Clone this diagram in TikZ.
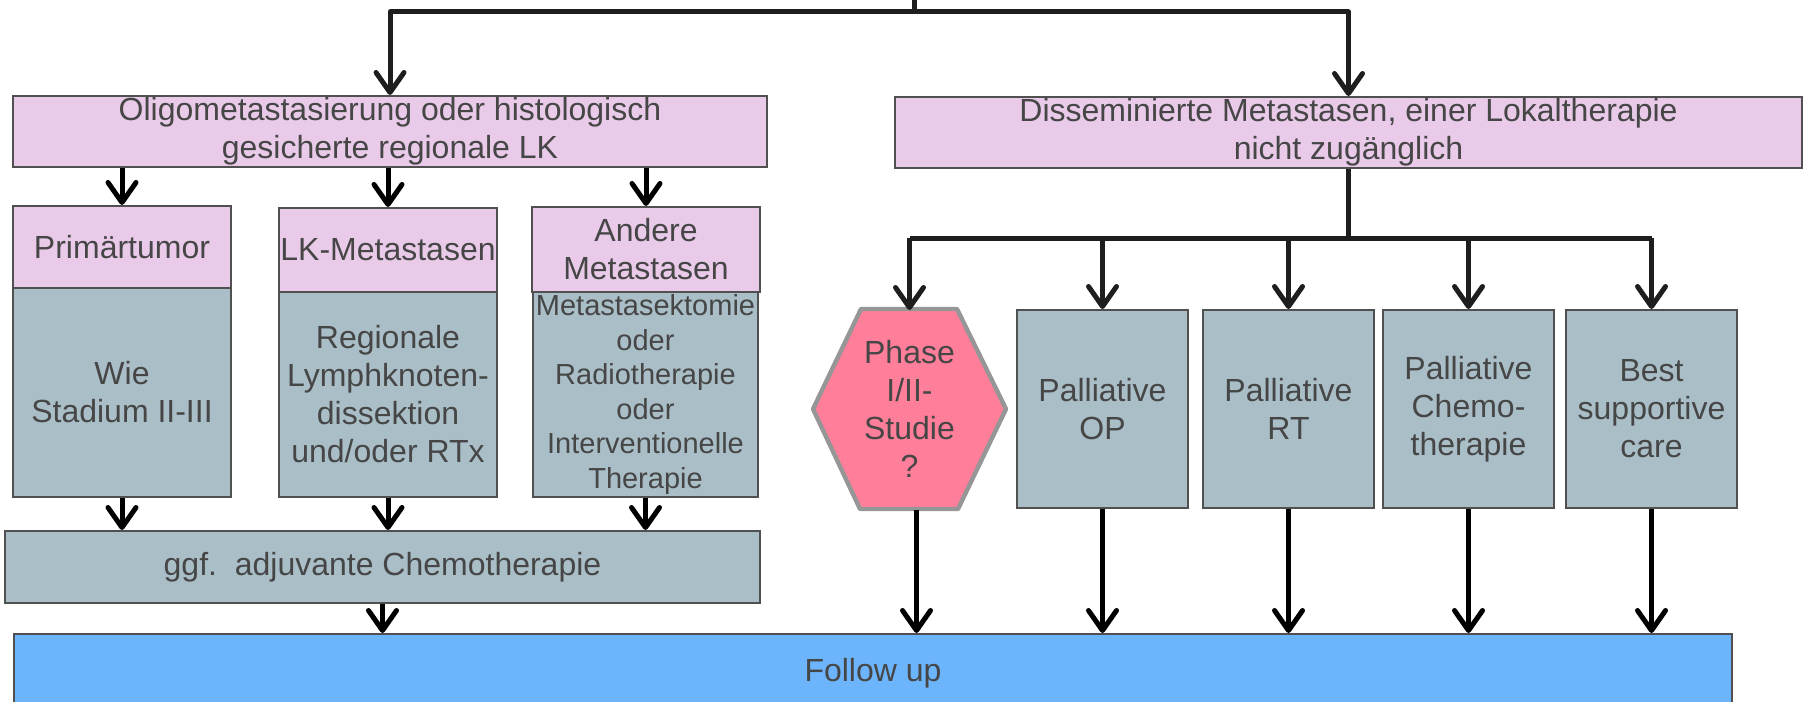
\documentclass[tikz,border=0pt]{standalone}
\usepackage{fontspec}
\setmainfont{Liberation Sans}
\usetikzlibrary{arrows.meta}
\definecolor{pinkbox}{RGB}{233,203,233}
\definecolor{graybox}{RGB}{169,190,199}
\definecolor{bluebox}{RGB}{108,181,253}
\definecolor{hexfill}{RGB}{255,126,153}
\definecolor{hexedge}{RGB}{150,150,150}
\definecolor{edge}{RGB}{80,80,80}
\definecolor{txt}{RGB}{70,70,70}
\definecolor{ink}{RGB}{30,30,30}
\newcommand\bx[7]{\node[#6, minimum width={(#4-#2)*0.5}, minimum height={(#5-#3)*0.5}] (#1) at ({(#2+#4)/2},{(#3+#5)/2}) {#7};}
\tikzset{
  box/.style={draw=edge, line width=1pt, inner sep=0pt, align=center, text=txt, font=\fontsize{16}{19}\selectfont},
  pinkb/.style={box, fill=pinkbox},
  grayb/.style={box, fill=graybox},
  arr/.style={-{Straight Barb[length=10pt,width=14pt,round]}, line width=2.5pt, draw=black, line join=round},
  arrd/.style={arr, draw=ink},
  ln/.style={line width=2.5pt, draw=ink, line join=round},
}
\begin{document}
\begin{tikzpicture}[x=0.5pt,y=-0.5pt]
\useasboundingbox (0,0) rectangle (1808,701);
% top level
\bx{oligo}{13}{96}{767}{167}{pinkb}{Oligometastasierung oder histologisch\\gesicherte regionale LK}
\bx{dissem}{895}{97}{1802}{168}{pinkb}{Disseminierte Metastasen, einer Lokaltherapie\\nicht zug\"anglich}
% left columns
\bx{primb}{13}{288}{231}{497}{grayb}{Wie\\Stadium II-III}
\bx{prim}{13}{206}{231}{288}{pinkb}{Prim\"artumor}
\bx{lkb}{279}{292}{497}{497}{grayb}{Regionale\\Lymphknoten-\\dissektion\\und/oder RTx}
\bx{lk}{279}{208}{497}{292}{pinkb}{LK-Metastasen}
\bx{andb}{533}{292}{758}{497}{grayb, font=\fontsize{14.5}{17.3}\selectfont}{Metastasektomie\\oder\\Radiotherapie\\oder\\Interventionelle\\Therapie}
\bx{and}{532}{207}{760}{292}{pinkb}{Andere\\Metastasen}
\bx{ggf}{5}{531}{760}{603}{grayb}{ggf.\ \ adjuvante Chemotherapie}
% right columns
\draw[draw=hexedge, fill=hexfill, line width=2.2pt, line join=round] (861,309) -- (957,309) -- (1006,409) -- (958,509) -- (860,509) -- (813,409) -- cycle;
\node[box, draw=none, minimum width=96.5, minimum height=100] (hex) at (909.5,409) {Phase\\I/II-\\Studie\\?};
\bx{op}{1017}{310}{1188}{508}{grayb}{Palliative\\OP}
\bx{rt}{1203}{310}{1374}{508}{grayb}{Palliative\\RT}
\bx{chemo}{1383}{310}{1554}{508}{grayb}{Palliative\\Chemo-\\therapie}
\bx{bsc}{1566}{310}{1737}{508}{grayb}{Best\\supportive\\care}
\bx{follow}{14}{634}{1732}{712}{box, fill=bluebox}{Follow up}
% connectors
\coordinate (topin) at (914,0);
\coordinate (j1) at (914,12);
\draw[ln] (topin) -- (j1);
\draw[arrd] (j1) -| (oligo.north);
\draw[arrd] (j1) -| (dissem.north);
\foreach \n in {prim,lk,and} \draw[arr] (oligo.south -| \n.north) -- (\n.north);
\foreach \n in {primb,lkb,andb} \draw[arr] (\n.south) -- (\n.south |- ggf.north);
\draw[arr] (ggf.south) -- (ggf.south |- follow.north);
\coordinate (j2) at (dissem.south |- 0,238);
\draw[ln] (dissem.south) -- (j2);
\draw[ln] (hex.north |- j2) -- (bsc.north |- j2);
\draw[arrd] (hex.north |- j2) -- ([yshift=-1pt]hex.north);
\foreach \n in {op,rt,chemo,bsc} \draw[arrd] (\n.north |- j2) -- (\n.north);
\draw[arr] ([xshift=3.5pt]hex.south) -- ([xshift=3.5pt]hex.south |- follow.north);
\foreach \n in {op,rt,chemo,bsc} \draw[arr] (\n.south) -- (\n.south |- follow.north);
\end{tikzpicture}
\end{document}
